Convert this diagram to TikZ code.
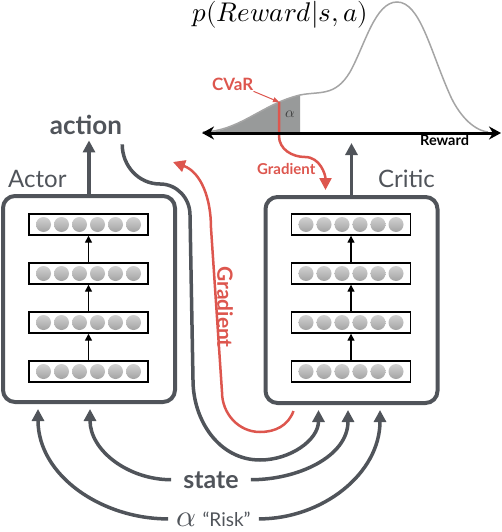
\documentclass[tikz,border=0pt]{standalone}
\usepackage{fontspec}
\usepackage{unicode-math}
\setmainfont{Lato}
\usepackage{tikz}
\usetikzlibrary{arrows.meta}

\definecolor{netgray}{RGB}{80,84,90}
\definecolor{gradred}{RGB}{221,86,78}
\definecolor{curvegray}{RGB}{165,165,165}
\definecolor{tailgray}{RGB}{152,154,154}

\tikzset{
  flow/.style={netgray, line width=3.5pt, -{Triangle[length=12pt,width=12pt]}},
  grad/.style={gradred, line width=2.5pt, -{Triangle[length=12pt,width=12pt]}},
  netbox/.style={draw=netgray, line width=4pt, rounded corners=12pt,
    minimum width=172pt, minimum height=206pt, inner sep=0pt},
  layer/.style={draw=black, line width=1.4pt, minimum width=119pt,
    minimum height=21pt, inner sep=0pt},
  fwd/.style={black, line width=1.4pt, -{Triangle[length=7pt,width=7pt]}},
}
\newcommand{\neurons}[1]{%
  \foreach \k in {-2.5,-1.5,...,2.5}
    \shade[top color=black!18, bottom color=black!36]
      ([xshift={\k*18pt}]#1.center) circle (7.5pt);}

\begin{document}
\begin{tikzpicture}[x=1pt,y=-1pt]
\useasboundingbox (0,0) rectangle (502,532);

% the two networks
\node[netbox] (actor) at (89,299) {};
\node[netbox] (critic) at (351.5,300) {};

\begin{scope}[every node/.style={layer}]
    \node (a1) at (88.5,371.5) {};
    \node (a2) at (88.5,322.5) {};
    \node (a3) at (88.5,273.5) {};
    \node (a4) at (88.5,224.5) {};
    \node (c1) at (351,371.5) {};
    \node (c2) at (351,322.5) {};
    \node (c3) at (351,273.5) {};
    \node (c4) at (351,224.5) {};
\end{scope}
\foreach \n in {a1,a2,a3,a4,c1,c2,c3,c4} {\neurons{\n}}

\draw[fwd] (a1) -- (a2);
\draw[fwd] (a2) -- (a3);
\draw[fwd] (a3) -- (a4);
\draw[fwd] (c1) -- (c2);
\draw[fwd] (c2) -- (c3);
\draw[fwd] (c3) -- (c4);

% labels
\begin{scope}[every node/.style={text=netgray, inner sep=0pt}]
    \node[anchor=base west, font=\fontsize{24}{28}\selectfont] (actorlbl) at (8,187) {Actor};
    \node[anchor=base west, font=\fontsize{24}{28}\selectfont] (criticlbl) at (378,187) {Critic};
    \node[anchor=base, font=\bfseries\fontsize{26}{30}\selectfont, inner ysep=6pt] (action) at (86,134) {action};
    \node[anchor=base, font=\bfseries\fontsize{25}{30}\selectfont, inner xsep=12pt] (state) at (211,488) {state};
    \node[anchor=base, font=\fontsize{19}{22}\selectfont, inner xsep=8pt] (risk) at (213.5,526)
        {{\fontsize{31}{34}\selectfont$\alpha$}\,\,“Risk”};
\end{scope}

% return distribution
\fill[tailgray] (203,133) .. controls (240,131) and (262,104) .. (300,95) -- (300,133) -- cycle;
\draw[curvegray, line width=1.5pt] (203,132) .. controls (240,131) and (262,104) .. (300,95)
    .. controls (320,91) and (335,97) .. (350,72)
    .. controls (365,45) and (375,2) .. (397,2)
    .. controls (420,2) and (430,50) .. (450,95)
    .. controls (458,113) and (472,130) .. (488,132);
\node[font=\fontsize{15}{18}\selectfont, text=black!75] (tail) at (290,114) {$\alpha$};
\node[anchor=base west, font=\fontsize{27}{30}\selectfont, inner sep=0pt] (dist) at (192,22) {$p(Reward|s,a)$};
\node[anchor=base west, font=\bfseries\fontsize{17}{20}\selectfont, text=gradred, inner sep=0pt] (cvar) at (212,91) {CVaR};
\node[anchor=base west, font=\bfseries\fontsize{14.5}{17}\selectfont, inner sep=0pt] (reward) at (420,145) {Reward};
\node[anchor=base west, font=\bfseries\fontsize{15}{18}\selectfont, text=gradred, inner sep=0pt] (gradsmall) at (257,174) {Gradient};
\node[rotate=-90, font=\bfseries\fontsize{21}{24}\selectfont, text=gradred, inner sep=0pt] (gradbig) at (225,307) {Gradient};

\coordinate (var) at (279,102);
\coordinate (rmin) at (202,133);
\coordinate (rmax) at (501,133);
\coordinate (qval) at (351.5,143);
\coordinate (gradtip) at (173,162);

\draw[gradred, line width=1pt, -{Triangle[length=6pt,width=5pt]}] (cvar.south east) -- (var);
\draw[grad] (var) -- (279,136) to[out=-90,in=180] (305,157)
    to[out=0,in=90] ([xshift=-26pt,yshift=5pt]critic.north);
\draw[black, line width=3pt, {Stealth[length=12pt,width=13pt]}-{Stealth[length=12pt,width=13pt]}] (rmin) -- (rmax);

% outputs
\draw[flow] (actor.north) -- (actor.north |- action.south);
\draw[flow] (critic.north) -- (qval);

% inputs
\draw[flow] (risk.west) to[out=180,in=-90] ([xshift=-51pt,yshift=-5pt]actor.south);
\draw[flow] (state.west) to[out=180,in=-90] ([xshift=1pt,yshift=-5pt]actor.south);
\draw[flow] (state.east) to[out=0,in=-90] ([xshift=-3.5pt,yshift=-5pt]critic.south);
\draw[flow] (risk.east) to[out=0,in=-90] ([xshift=28.5pt,yshift=-5pt]critic.south);
\draw[flow] ([yshift=-4pt]action.south east) to[out=-90,in=180] (160,184)
    to[out=0,in=90] (190,215) -- (193,380) to[out=-90,in=180] (260,460)
    to[out=0,in=-90] ([xshift=-33pt,yshift=-5pt]critic.south);

% gradient back to the actor
\draw[grad] ([xshift=-58pt,yshift=-6pt]critic.south) to[out=-110,in=0] (260,432)
    to[out=180,in=-90] (222,392) -- (211,228) to[out=90,in=-20] (gradtip);
\end{tikzpicture}
\end{document}
